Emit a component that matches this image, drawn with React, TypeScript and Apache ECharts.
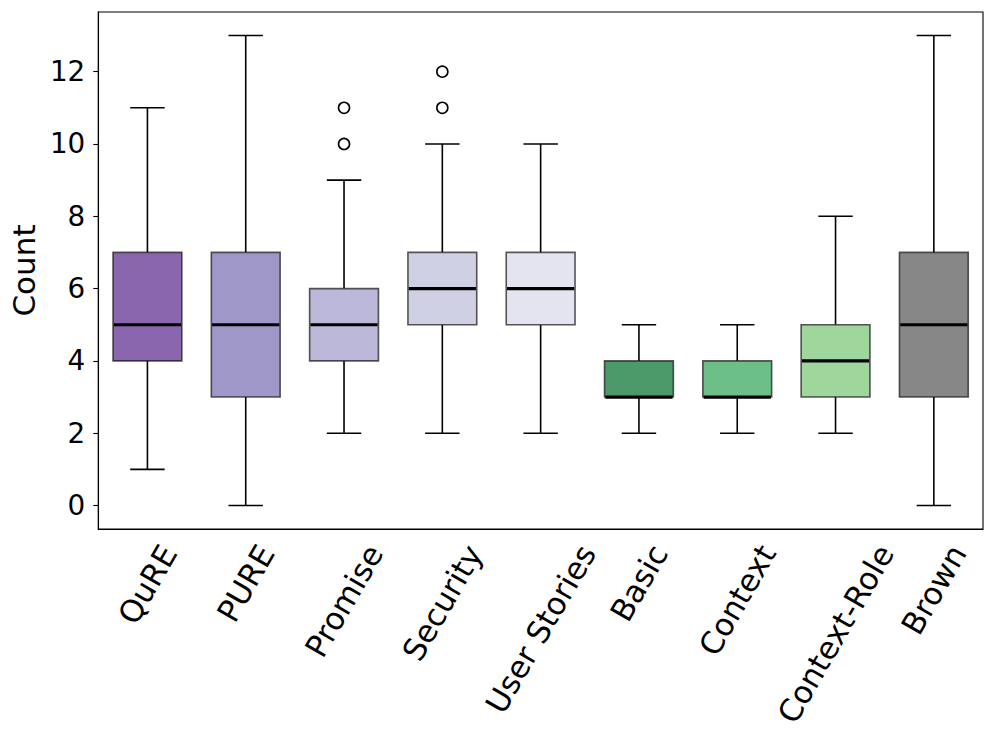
import React, { useEffect, useRef } from "react";
import * as echarts from "echarts";

const categories = ["QuRE", "PURE", "Promise", "Security", "User Stories", "Basic", "Context", "Context-Role", "Brown"];
const whiskerLow = [1, 0, 2, 2, 2, 2, 2, 2, 0];
const q1 = [4, 3, 4, 5, 5, 3, 3, 3, 3];
const medians = [5, 5, 5, 6, 6, 3, 3, 4, 5];
const q3 = [7, 7, 6, 7, 7, 4, 4, 5, 7];
const whiskerHigh = [11, 13, 9, 10, 10, 5, 5, 8, 13];
const outlierCats = ["Promise", "Promise", "Security", "Security"];
const outlierValues = [10, 11, 11, 12];
const boxColors = ["#8966ae", "#9f97c7", "#bbb8da", "#d0d0e5", "#e4e4f0", "#4c9a6a", "#6cbf87", "#9ed69c", "#878787"];
const yTicks = [0, 2, 4, 6, 8, 10, 12];
const yMin = -0.65;
const yMax = 13.65;

const FONT = "DejaVu Sans";
const X_LABEL_SIZE = 31;

export default function App() {
  const ref = useRef<HTMLDivElement>(null);
  useEffect(() => {
    if (!ref.current) return;
    const chart = echarts.init(ref.current, null, { renderer: "svg" });
    const boxData = categories.map((_, i) => [i, whiskerLow[i], q1[i], medians[i], q3[i], whiskerHigh[i]]);
    const outlierData = outlierCats.map((c, i) => [categories.indexOf(c), outlierValues[i]]);
    chart.setOption({
      animation: false,
      backgroundColor: "#fff",
      grid: {
        left: 98,
        right: 13,
        top: 12,
        bottom: 215,
        show: true,
        borderColor: "#000",
        borderWidth: 1.1,
        backgroundColor: "transparent",
      },
      xAxis: {
        type: "category",
        data: categories,
        boundaryGap: true,
        axisLine: { onZero: false, lineStyle: { color: "#000", width: 1.1 } },
        axisTick: { alignWithLabel: true, length: 5, lineStyle: { color: "#000", width: 1.1 } },
        axisLabel: { show: false },
        splitLine: { show: false },
      },
      yAxis: {
        type: "value",
        min: yMin,
        max: yMax,
        name: "Count",
        nameLocation: "middle",
        nameRotate: 90,
        nameGap: 55,
        nameTextStyle: { fontFamily: FONT, fontSize: 31, color: "#000" },
        axisLine: { show: true, lineStyle: { color: "#000", width: 1.1 } },
        axisTick: { show: true, length: 5, customValues: yTicks, lineStyle: { color: "#000", width: 1.1 } },
        axisLabel: {
          customValues: yTicks,
          margin: 13,
          fontFamily: FONT,
          fontSize: 27.8,
          color: "#000",
        },
        splitLine: { show: false },
      },
      series: [
        {
          type: "custom",
          data: boxData,
          encode: { x: 0, y: [1, 2, 3, 4, 5] },
          renderItem: (params: any, api: any) => {
            const i = api.value(0);
            const lo = api.coord([i, api.value(1)]);
            const b1 = api.coord([i, api.value(2)]);
            const md = api.coord([i, api.value(3)]);
            const b3 = api.coord([i, api.value(4)]);
            const hi = api.coord([i, api.value(5)]);
            const band = api.size([1, 0])[0];
            const w = band * 0.7;
            const x = lo[0];
            const cap = w / 4;
            const blk = { stroke: "#000", lineWidth: 1.6 };
            return {
              type: "group",
              children: [
                { type: "line", shape: { x1: x, y1: lo[1], x2: x, y2: b1[1] }, style: blk },
                { type: "line", shape: { x1: x, y1: b3[1], x2: x, y2: hi[1] }, style: blk },
                { type: "line", shape: { x1: x - cap, y1: lo[1], x2: x + cap, y2: lo[1] }, style: blk },
                { type: "line", shape: { x1: x - cap, y1: hi[1], x2: x + cap, y2: hi[1] }, style: blk },
                {
                  type: "rect",
                  shape: { x: x - w / 2, y: b3[1], width: w, height: b1[1] - b3[1] },
                  style: { fill: boxColors[params.dataIndex], stroke: "rgba(20,20,20,0.7)", lineWidth: 1.6 },
                },
                {
                  type: "line",
                  shape: { x1: x - w / 2 + 0.8, y1: md[1], x2: x + w / 2 - 0.8, y2: md[1] },
                  style: { stroke: "#000", lineWidth: 3.2 },
                },
              ],
            };
          },
          z: 2,
        },
        {
          type: "scatter",
          data: outlierData,
          symbol: "circle",
          symbolSize: 11,
          itemStyle: { color: "#fff", borderColor: "#000", borderWidth: 1.6, opacity: 1 },
          z: 3,
        },
      ],
    });

    const canvas = document.createElement("canvas");
    const ctx = canvas.getContext("2d")!;
    ctx.font = `${X_LABEL_SIZE}px "${FONT}"`;
    const axisY = chart.convertToPixel({ yAxisIndex: 0 }, yMin) as number;
    const s60 = Math.sin(Math.PI / 3);
    const c60 = Math.cos(Math.PI / 3);
    const H = X_LABEL_SIZE * 1.1;
    const labels = categories.map((name) => {
      const px = chart.convertToPixel({ xAxisIndex: 0 }, name) as number;
      const L = ctx.measureText(name).width;
      const bboxH = L * s60 + H * c60;
      return {
        type: "text",
        x: px,
        y: axisY + 10 + bboxH / 2,
        rotation: Math.PI / 3,
        style: {
          text: name,
          fontFamily: FONT,
          fontSize: X_LABEL_SIZE,
          fill: "#000",
          align: "center",
          verticalAlign: "middle",
        },
      };
    });
    chart.setOption({ graphic: labels });

    return () => chart.dispose();
  }, []);
  return <div ref={ref} style={{ width: 996, height: 744, position: "absolute", left: 0, top: 0 }} />;
}
